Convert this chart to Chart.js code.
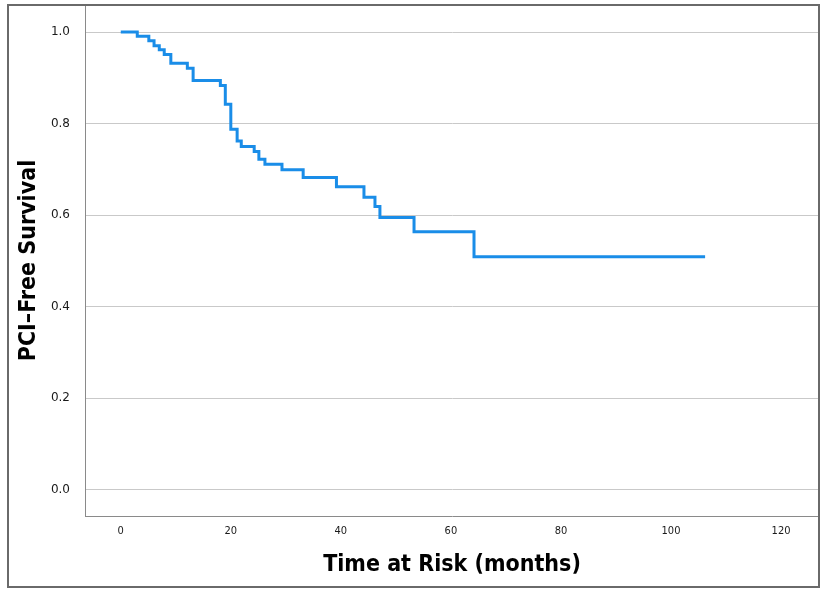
<!DOCTYPE html>
<html>
<head>
<meta charset="utf-8">
<script src="https://cdn.jsdelivr.net/npm/chart.js@4.4.1/dist/chart.umd.min.js"></script>
<style>
  html, body { margin: 0; padding: 0; background: #ffffff; }
  #wrap { width: 830px; height: 594px; position: relative; }
</style>
</head>
<body>
<div id="wrap"><canvas id="c" width="830" height="594"></canvas></div>
<script>
// Kaplan-Meier step points: time (months) at which the survival drops, and the new level
const times = [0, 3.0, 5.1, 6.05, 7.0, 7.9, 9.1, 12.1, 13.15, 18.1, 19.0, 20.0, 21.15, 21.9, 24.25, 25.1, 26.2, 29.3, 33.15, 39.2, 44.2, 46.2, 47.1, 53.3, 64.2, 106.2];
const survival = [1.0, 0.991, 0.981, 0.970, 0.961, 0.951, 0.932, 0.921, 0.894, 0.883, 0.842, 0.7875, 0.762, 0.750, 0.739, 0.722, 0.711, 0.699, 0.682, 0.662, 0.639, 0.619, 0.595, 0.564, 0.509, 0.509];
const xTicks = [0, 20, 40, 60, 80, 100, 120];
const yTicks = [0.0, 0.2, 0.4, 0.6, 0.8, 1.0];
const xTitle = 'Time at Risk (months)';
const yTitle = 'PCI\u2013Free Survival';

const points = times.map((t, i) => ({ x: t, y: survival[i] }));

const framePlugin = {
  id: 'frame',
  beforeDraw(chart) {
    const ctx = chart.ctx;
    ctx.save();
    ctx.fillStyle = '#ffffff';
    ctx.fillRect(0, 0, chart.width, chart.height);
    ctx.restore();
  },
  afterDraw(chart) {
    const ctx = chart.ctx;
    ctx.save();
    ctx.strokeStyle = '#6a6a6a';
    ctx.lineWidth = 2;
    ctx.strokeRect(8, 5, 811, 582);
    ctx.restore();
  }
};

new Chart(document.getElementById('c'), {
  type: 'line',
  data: {
    datasets: [{
      data: points,
      stepped: 'before',
      borderColor: '#1a8de8',
      borderWidth: 3,
      pointRadius: 0,
      fill: false,
      tension: 0
    }]
  },
  options: {
    responsive: false,
    animation: false,
    events: [],
    layout: { padding: { top: 5, right: 11, bottom: 7, left: 0 } },
    plugins: { legend: { display: false }, tooltip: { enabled: false } },
    scales: {
      x: {
        type: 'linear',
        min: -6.5,
        max: 126.9,
        afterBuildTicks(scale) { scale.ticks = xTicks.map(v => ({ value: v })); },
        afterFit(scale) { scale.height = 71; scale.paddingLeft = 0; scale.paddingRight = 0; },
        grid: { display: false, drawTicks: false },
        border: { display: true, color: '#8a8a8a', width: 1 },
        ticks: {
          padding: 9,
          color: '#1a1a1a',
          font: { family: '"Liberation Sans Narrow", "DejaVu Sans Condensed", sans-serif', size: 11 },
          maxRotation: 0,
          autoSkip: false,
          callback: v => String(v)
        },
        title: {
          display: true,
          text: xTitle,
          color: '#000000',
          font: { family: '"DejaVu Sans Condensed", "DejaVu Sans", sans-serif', size: 23, weight: 'bold' },
          padding: { top: 0, bottom: 8 }
        }
      },
      y: {
        type: 'linear',
        min: -0.057,
        max: 1.059,
        afterBuildTicks(scale) { scale.ticks = yTicks.map(v => ({ value: v })); },
        afterFit(scale) { scale.width = 85; scale.paddingTop = 0; scale.paddingBottom = 0; },
        grid: { display: true, drawTicks: false, color: '#c9c9c9', lineWidth: 1 },
        border: { display: true, color: '#8a8a8a', width: 1 },
        ticks: {
          padding: 15,
          color: '#1a1a1a',
          font: { family: '"DejaVu Sans", sans-serif', size: 12 },
          autoSkip: false,
          callback: v => Number(v).toFixed(1)
        },
        title: {
          display: true,
          text: yTitle,
          color: '#000000',
          font: { family: '"DejaVu Sans Condensed", "DejaVu Sans", sans-serif', size: 23, weight: 'bold' },
          padding: { top: 15, bottom: 0 }
        }
      }
    }
  },
  plugins: [framePlugin]
});
</script>
</body>
</html>
